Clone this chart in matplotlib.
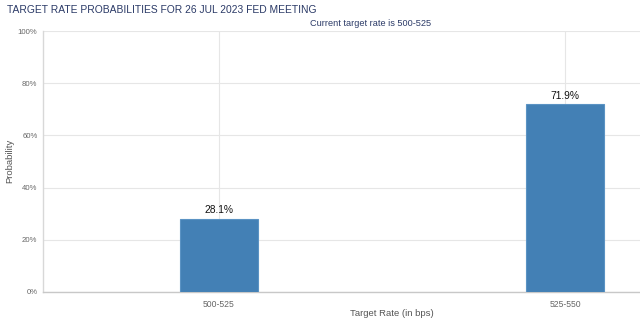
import matplotlib
matplotlib.use("Agg")
import matplotlib.pyplot as plt
from matplotlib.ticker import FuncFormatter

plt.rcParams["font.family"] = ["Liberation Sans", "DejaVu Sans"]

categories = ["500-525", "525-550"]
probabilities = [28.1, 71.9]
y_ticks = [0, 20, 40, 60, 80, 100]

W, H = 640, 323
fig = plt.figure(figsize=(W / 100, H / 100), dpi=100)
ax = fig.add_axes([43 / W, 1 - 292 / H, (640 - 43) / W, (292 - 31) / H])

x = list(range(len(categories)))
ax.bar(x, probabilities, width=0.225, color="#4380b5", edgecolor="#5b93c4", linewidth=0.8, zorder=3)
for xi, v in zip(x, probabilities):
    ax.text(xi, v + 1.3, f"{v}%", ha="center", va="bottom", fontsize=7.4,
            color="#111111", zorder=4)

ax.set_xlim((43 - 219) / 346, (640 - 219) / 346)
ax.set_ylim(0, 100)
ax.set_yticks(y_ticks)
ax.yaxis.set_major_formatter(FuncFormatter(lambda v, p: f"{int(v)}%"))
ax.set_xticks(x)
ax.set_xticklabels(categories)
ax.tick_params(axis="both", length=0, labelcolor="#666666")
ax.tick_params(axis="y", pad=4, labelsize=5.6)
ax.tick_params(axis="x", pad=6, labelsize=6.2)
ax.grid(True, color="#e6e6e6", linewidth=0.8, zorder=0)
for s in ["top", "right"]:
    ax.spines[s].set_visible(False)
ax.spines["left"].set_color("#d8d8d8")
ax.spines["bottom"].set_color("#c8c8c8")
ax.spines["left"].set_linewidth(1.0)
ax.spines["bottom"].set_linewidth(1.0)

fig.text(7 / W, 1 - 10 / H, "TARGET RATE PROBABILITIES FOR 26 JUL 2023 FED MEETING",
         ha="left", va="center", fontsize=7.4, color="#2b3a67")
fig.text(371 / W, 1 - 24 / H, "Current target rate is 500-525",
         ha="center", va="center", fontsize=6.6, color="#2b3a67")
fig.text(392 / W, 1 - 313 / H, "Target Rate (in bps)",
         ha="center", va="center", fontsize=6.8, color="#555555")
fig.text(10 / W, 1 - 161 / H, "Probability", rotation=90,
         ha="center", va="center", fontsize=6.8, color="#555555")

fig.savefig("out.png", dpi=100)
